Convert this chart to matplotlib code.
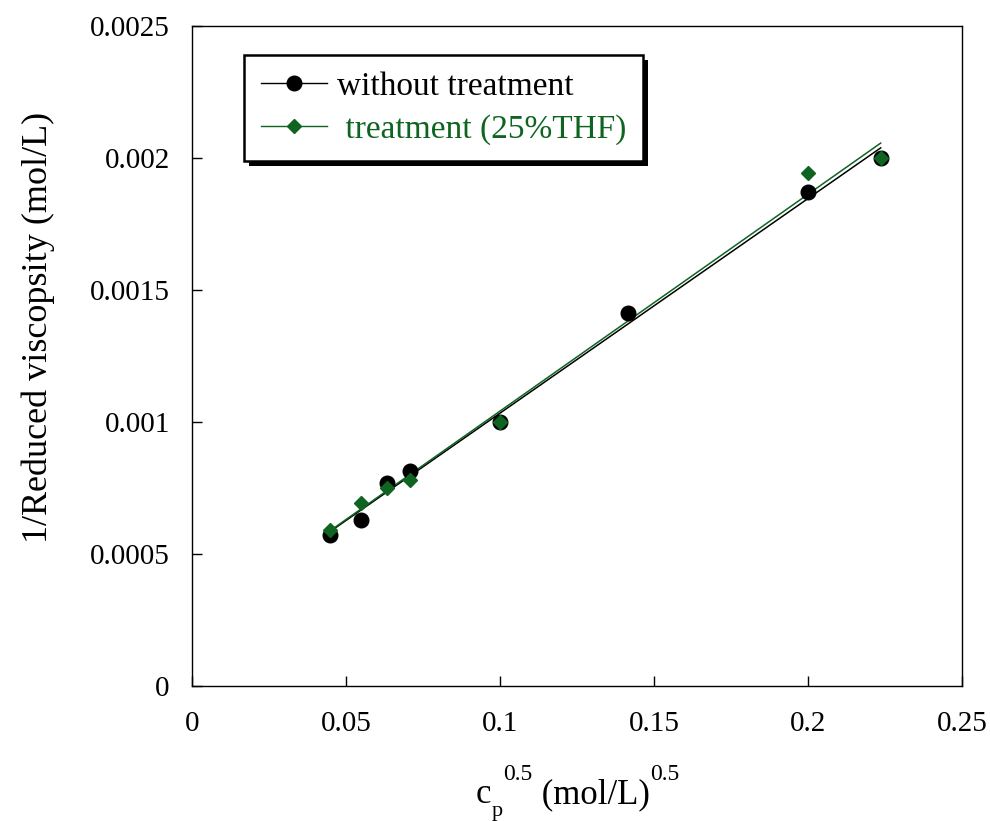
import numpy as np
import matplotlib
matplotlib.use("Agg")
import matplotlib.pyplot as plt
from matplotlib.patches import Rectangle

plt.rcParams['font.family'] = ['Liberation Serif', 'DejaVu Serif']

# data
x_without = [0.0447, 0.0548, 0.0632, 0.0707, 0.1000, 0.1414, 0.2000, 0.2236]
y_without = [0.000572, 0.000629, 0.000769, 0.000814, 0.001000, 0.001413, 0.001871, 0.002000]
x_treat = [0.0447, 0.0548, 0.0632, 0.0707, 0.1000, 0.2000, 0.2236]
y_treat = [0.000591, 0.000693, 0.000750, 0.000780, 0.001000, 0.001943, 0.002000]
label_without = "without treatment"
label_treat = " treatment (25%THF)"
xticks = [0, 0.05, 0.1, 0.15, 0.2, 0.25]
xticklabels = ["0", "0.05", "0.1", "0.15", "0.2", "0.25"]
yticks = [0, 0.0005, 0.001, 0.0015, 0.002, 0.0025]
yticklabels = ["0", "0.0005", "0.001", "0.0015", "0.002", "0.0025"]
ylabel = "1/Reduced viscopsity (mol/L)"
# x label pieces: (text, size, baseline shift in px)
xlabel_parts = [("c", 25, 0), ("p", 16, -13), ("0.5", 17, 23), (" (mol/L)", 25, 0), ("0.5", 17, 23)]

green = '#0e6420'
W, H = 990, 821

fig = plt.figure(figsize=(9.9, 8.21), dpi=100)
ax = fig.add_axes([192/W, 1-686/H, (962-192)/W, (686-26)/H])

# fit lines
for xs, ys, c in [(x_without, y_without, 'black'), (x_treat, y_treat, green)]:
    xs = np.asarray(xs); ys = np.asarray(ys)
    k, b = np.polyfit(xs, ys, 1)
    xx = np.array([xs.min(), xs.max()])
    ax.plot(xx, k*xx + b, color=c, lw=1.1, zorder=2)

ax.plot(x_without, y_without, 'o', color='black', ms=10.5, zorder=3)
ax.plot(x_treat, y_treat, 'D', color=green, ms=7, zorder=4)

ax.set_xlim(0, 0.25)
ax.set_ylim(0, 0.0025)
ax.set_xticks(xticks)
ax.set_xticklabels(xticklabels)
ax.set_yticks(yticks)
ax.set_yticklabels(yticklabels)
ax.tick_params(direction='in', length=7, width=1, labelsize=21, top=False, right=False)
ax.tick_params(axis='x', pad=18)
ax.tick_params(axis='y', pad=16)
for s in ax.spines.values():
    s.set_linewidth(1)

ax.set_ylabel(ylabel, fontsize=26)
ax.yaxis.set_label_coords((38-192)/770, (686-327)/660)
ax.yaxis.label.set_va('center')

# legend handles
h1, = ax.plot([], [], '-o', color='black', lw=1, ms=10.5)
h2, = ax.plot([], [], '-D', color=green, lw=1, ms=7)
leg = ax.legend([h1, h2], [label_without, label_treat], loc='upper left',
                bbox_to_anchor=(52/770, 1-29/660), fontsize=24, frameon=True,
                fancybox=False, handlelength=2.0, handletextpad=0.3,
                borderpad=0.5, labelspacing=0.35, borderaxespad=0)
leg.get_frame().set_edgecolor('black')
leg.get_frame().set_linewidth(1.8)
leg.get_frame().set_alpha(1)
leg.texts[1].set_color(green)
leg.set_zorder(10)

fig.canvas.draw()
renderer = fig.canvas.get_renderer()

# x label built from pieces
xpos = 476
base = 803
for txt, size, shift in xlabel_parts:
    t = fig.text(xpos/W, 1-(base-shift)/H, txt, fontsize=size, va='baseline', ha='left')
    ext = t.get_window_extent(renderer)
    xpos += ext.width + (1 if txt == "p" else 0)

bb = leg.get_window_extent().transformed(fig.transFigure.inverted())
shadow = Rectangle((bb.x0 + 5/W, bb.y0 - 5/H), bb.width, bb.height,
                   transform=fig.transFigure, facecolor='black', edgecolor='none', zorder=9)
fig.add_artist(shadow)
leg.remove()
fig.add_artist(leg)

fig.savefig("out.png", dpi=100)
